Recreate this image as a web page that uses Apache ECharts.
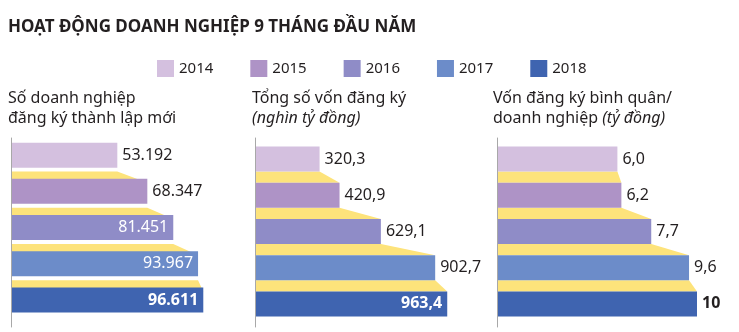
<!DOCTYPE html>
<html><head><meta charset="utf-8">
<script src="https://cdn.jsdelivr.net/npm/echarts@6/dist/echarts.min.js"></script>
<style>html,body{margin:0;padding:0;background:#fff}#c{width:739px;height:332px}</style>
</head><body><div id="c"></div>
<script>
const years = ['2014','2015','2016','2017','2018'];
const colors = ['#d4c0df','#ae93c6','#8f8cc7','#6c8cc9','#3f64b0'];
const yellow = '#fde37b';
const soDN = [53192, 68347, 81451, 93967, 96611];
const soDNLabels = ['53.192','68.347','81.451','93.967','96.611'];
const tongVon = [320.3, 420.9, 629.1, 902.7, 963.4];
const tongVonLabels = ['320,3','420,9','629,1','902,7','963,4'];
const vonBQ = [6.0, 6.2, 7.7, 9.6, 10];
const vonBQLabels = ['6,0','6,2','7,7','9,6','10'];

const FONT = '"Noto Sans", "Open Sans", sans-serif';
const chart = echarts.init(document.getElementById('c'));

const panels = [
  {left: 12, width: 198, max: 100000, vals: soDN, labels: soDNLabels, inside: [false,false,true,true,true], bold:[false,false,false,false,true]},
  {left: 256, width: 198.5, max: 1000, vals: tongVon, labels: tongVonLabels, inside: [false,false,false,false,true], bold:[false,false,false,false,true]},
  {left: 498, width: 199, max: 10, vals: vonBQ, labels: vonBQLabels, inside: [false,false,false,false,false], bold:[false,false,false,false,true]}
];

const grid = [], xAxis = [], yAxis = [], series = [];
const BARW = 25;
panels.forEach((p, gi) => {
  grid.push({left: p.left, top: 141, width: p.width, height: 181});
  xAxis.push({gridIndex: gi, type: 'value', min: 0, max: p.max, show: false});
  yAxis.push({gridIndex: gi, type: 'category', data: years, inverse: true,
    axisLine: {show: false}, axisTick: {show: false}, axisLabel: {show: false}, splitLine: {show: false}});
  const conn = [];
  for (let i = 0; i < p.vals.length - 1; i++) conn.push([i, p.vals[i], p.vals[i+1]]);
  series.push({
    type: 'custom', xAxisIndex: gi, yAxisIndex: gi, z: 1, silent: true,
    data: conn,
    renderItem: function (params, api) {
      const i = api.value(0);
      const a = api.coord([api.value(1), years[i]]);
      const b = api.coord([api.value(2), years[i + 1]]);
      const x0 = api.coord([0, years[i]])[0];
      const yTop = a[1] + BARW / 2;
      const yBot = b[1] - BARW / 2;
      return {type: 'polygon', shape: {points: [[x0, yTop], [a[0], yTop], [b[0], yBot], [x0, yBot]]},
        style: {fill: yellow}};
    }
  });
  series.push({
    type: 'bar', xAxisIndex: gi, yAxisIndex: gi, z: 2, barWidth: BARW,
    data: p.vals.map((v, i) => ({
      value: v,
      itemStyle: {color: colors[i]},
      label: {
        show: true,
        position: p.inside[i] ? 'insideRight' : 'right',
        distance: 5,
        formatter: p.labels[i],
        color: p.inside[i] ? '#ffffff' : '#231f20',
        fontWeight: p.bold[i] ? 'bold' : 'normal',
        fontSize: 16, fontFamily: FONT
      }
    }))
  });
});
// separate axis-line grids (the vertical baseline extends slightly past the bars)
panels.forEach((p, k) => {
  const gi = grid.length;
  grid.push({left: p.left - 0.5, top: 138, width: 1, height: 189});
  xAxis.push({gridIndex: gi, type: 'value', min: 0, max: 1, show: false});
  yAxis.push({gridIndex: gi, type: 'value', min: 0, max: 1, z: 5,
    axisLine: {show: true, lineStyle: {color: '#a8a8a8', width: 1}},
    axisTick: {show: false}, axisLabel: {show: false}, splitLine: {show: false}});
});

const titleStyle = {fontSize: 16, fontFamily: FONT, color: '#231f20', fontWeight: 'normal', lineHeight: 20};
const italic = {fontSize: 16, fontFamily: FONT, color: '#231f20', fontStyle: 'italic', lineHeight: 20};

chart.setOption({
  animation: false,
  title: [
    {text: 'HOẠT ĐỘNG DOANH NGHIỆP 9 THÁNG ĐẦU NĂM', left: 3, top: 14,
      textStyle: {fontSize: 17, fontWeight: 'bold', fontFamily: FONT, color: '#231f20'}},
    {text: 'Số doanh nghiệp\nđăng ký thành lập mới', left: 8, top: 88, padding: 0, textStyle: titleStyle},
    {text: 'Tổng số vốn đăng ký\n{i|(nghìn tỷ đồng)}', left: 252, top: 88, padding: 0, textStyle: Object.assign({}, titleStyle, {rich: {i: italic}})},
    {text: 'Vốn đăng ký bình quân/\ndoanh nghiệp {i|(tỷ đồng)}', left: 493, top: 88, padding: 0, textStyle: Object.assign({}, titleStyle, {rich: {i: italic}})}
  ],
  legend: {
    top: 55, left: 152, itemWidth: 17, itemHeight: 17, itemGap: 37,
    icon: 'rect',
    textStyle: {fontSize: 15, fontFamily: FONT, color: '#231f20'},
    data: years.map((y, i) => ({name: y, itemStyle: {color: colors[i]}}))
  },
  grid, xAxis, yAxis,
  series: series.concat(years.map((y, i) => ({name: y, type: 'bar', data: [], itemStyle: {color: colors[i]}})))
});
</script></body></html>
